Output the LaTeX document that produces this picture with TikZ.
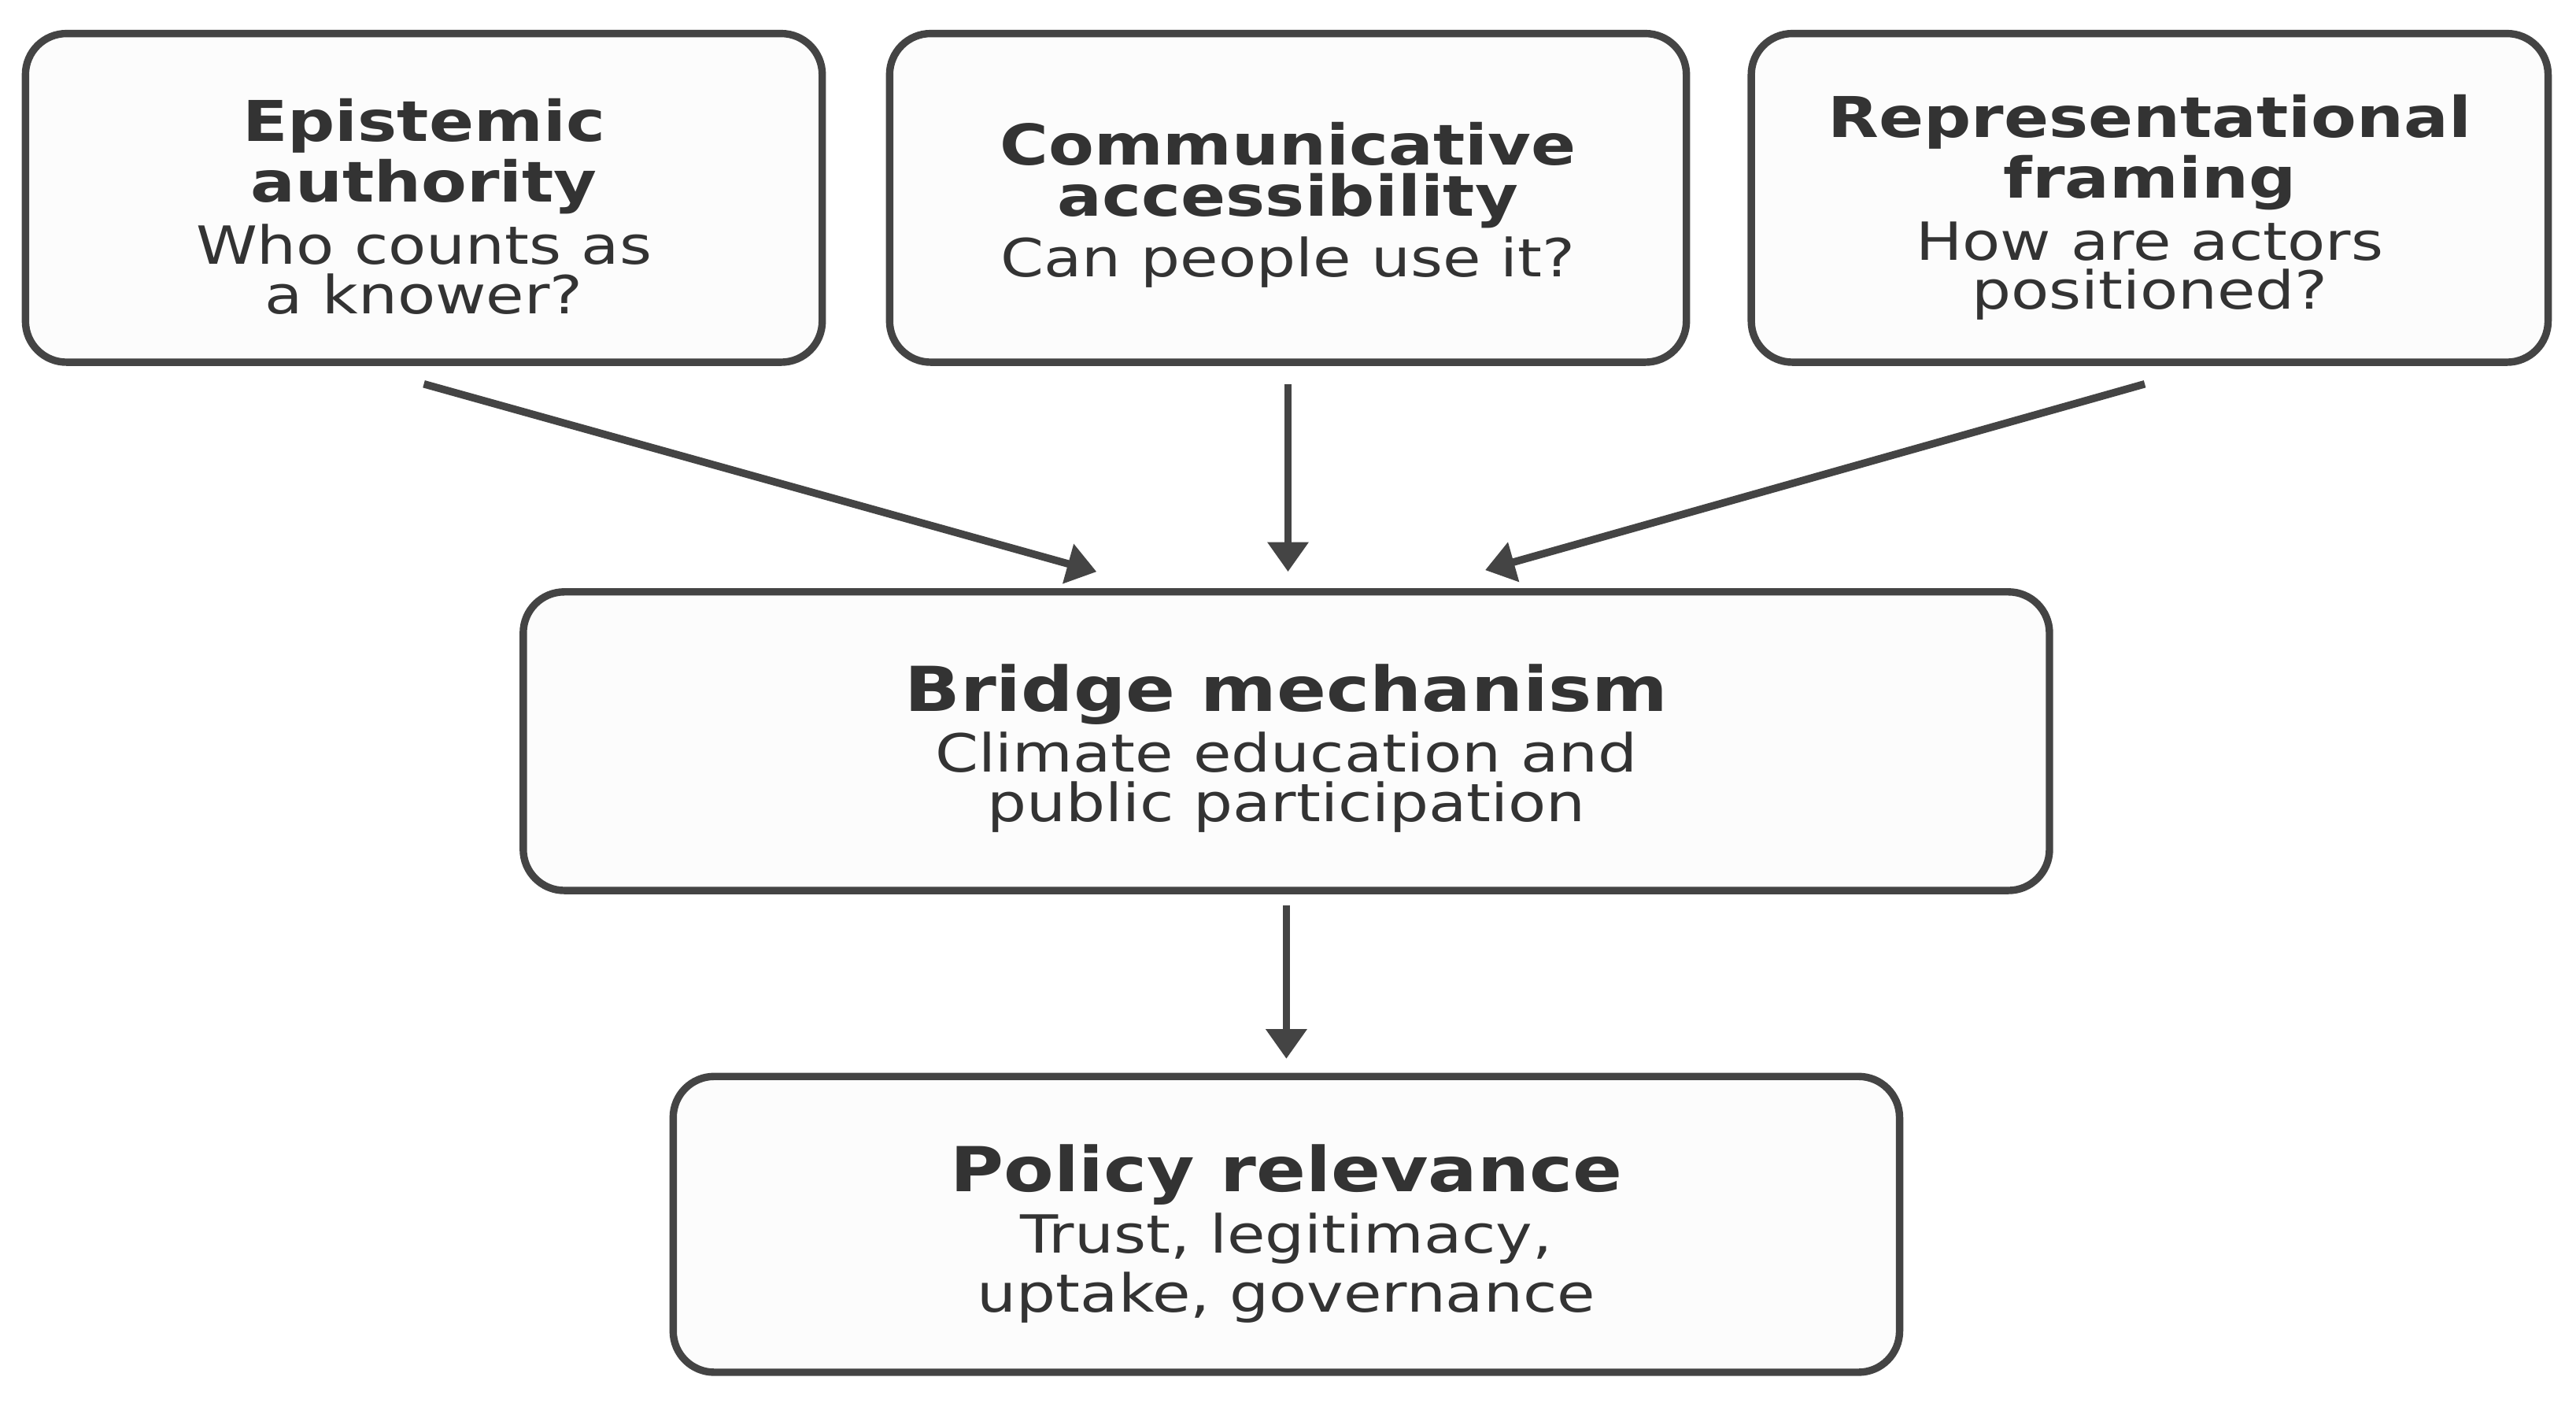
\documentclass[tikz,border=0pt]{standalone}
\usepackage{fontspec}
\setmainfont{DejaVu Sans}[FakeStretch=1.18]
\usetikzlibrary{arrows.meta}
\definecolor{edgec}{HTML}{444444}
\definecolor{txtc}{HTML}{333333}
\definecolor{boxfill}{HTML}{FCFCFC}
\tikzset{
  box/.style={draw=edgec, fill=boxfill, line width=4.5pt, rounded corners=25pt, inner sep=0pt, rectangle},
  smalltitle/.style={text=txtc, inner sep=0pt, anchor=base, font=\fontsize{34.2}{40}\selectfont\bfseries},
  bigtitle/.style={text=txtc, inner sep=0pt, anchor=base, font=\fontsize{37.7}{44}\selectfont\bfseries},
  body/.style={text=txtc, inner sep=0pt, anchor=base, font=\fontsize{32}{38}\selectfont},
  arr/.style={draw=edgec, line width=4.6pt, -{Triangle[length=18pt,width=24pt]}}
}
\begin{document}
\begin{tikzpicture}[x=1pt,y=-1pt]
\useasboundingbox[fill=white] (0,0) rectangle (1568,860);

% boxes
\node[box, minimum width=485pt, minimum height=200pt] (b1) at (258,120.4) {};
\node[box, minimum width=485pt, minimum height=200pt] (b2) at (784,120.4) {};
\node[box, minimum width=485pt, minimum height=200pt] (b3) at (1308.5,120.4) {};
\node[box, minimum width=929pt, minimum height=181.7pt] (br) at (783,451) {};
\node[box, minimum width=746.5pt, minimum height=180pt] (po) at (783,745) {};

% texts box 1
\node[smalltitle] (t1a) at (258,86.2) {Epistemic};
\node[smalltitle] (t1b) at (258,123) {authority};
\node[body] (t1c) at (258,160.5) {Who counts as};
\node[body] (t1d) at (258,190.8) {a knower?};

% texts box 2
\node[smalltitle] (t2a) at (784,100.6) {Communicative};
\node[smalltitle] (t2b) at (784,131.7) {accessibility};
\node[body] (t2c) at (784,168.5) {Can people use it?};

% texts box 3
\node[smalltitle] (t3a) at (1308.5,83.4) {Representational};
\node[smalltitle] (t3b) at (1308.5,120.6) {framing};
\node[body] (t3c) at (1308.5,158.1) {How are actors};
\node[body] (t3d) at (1308.5,188) {positioned?};

% bridge
\node[bigtitle] (tba) at (783,432.8) {Bridge mechanism};
\node[body] (tbb) at (783,469.5) {Climate education and};
\node[body] (tbc) at (783,500) {public participation};

% policy
\node[bigtitle] (tpa) at (783,725) {Policy relevance};
\node[body] (tpb) at (783,762.5) {Trust, legitimacy,};
\node[body] (tpc) at (783,798.5) {uptake, governance};

% arrows
\draw[arr] ([yshift=-11pt]b1.south) -- ([xshift=-115.5pt,yshift=10pt]br.north);
\draw[arr, shorten <=11pt, shorten >=10pt] (b2.south) -- (b2.south |- br.north);
\draw[arr] ([xshift=-3pt,yshift=-11pt]b3.south) -- ([xshift=121pt,yshift=11pt]br.north);
\draw[arr, shorten <=6.7pt, shorten >=8.5pt] (br.south) -- (po.north);
\end{tikzpicture}
\end{document}
